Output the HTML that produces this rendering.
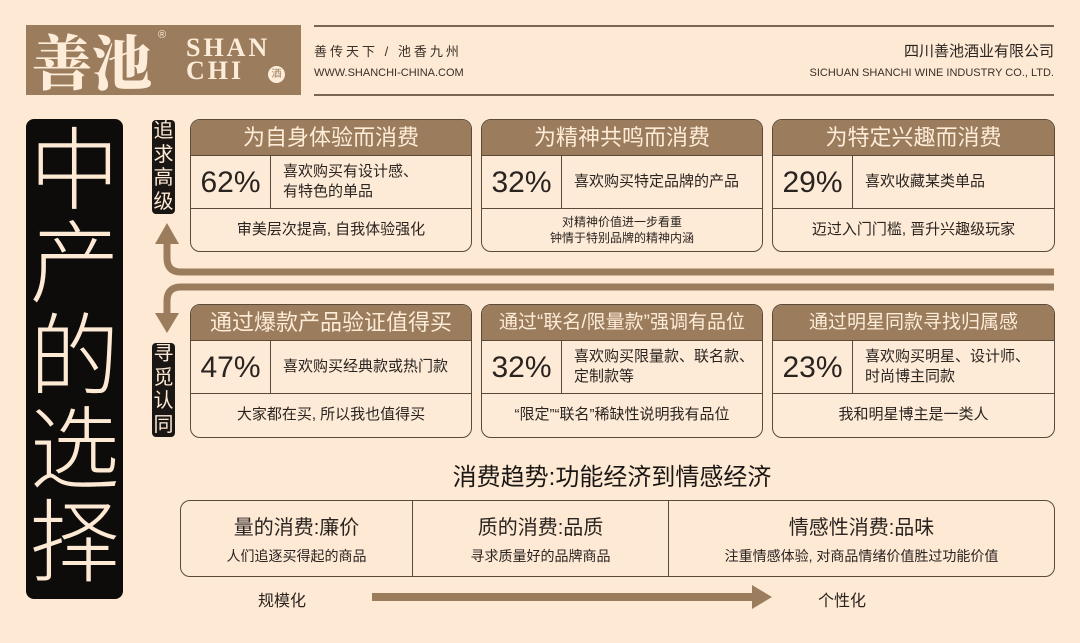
<!DOCTYPE html>
<html><head><meta charset="utf-8"><style>
*{margin:0;padding:0;box-sizing:border-box}
body{width:1080px;height:643px;background:#fde9d4;font-family:"Liberation Sans","Noto Sans CJK SC",sans-serif;position:relative;overflow:hidden;color:#2a2420}
.a{position:absolute}
.card{position:absolute;border:1.5px solid #5a4a3a;border-radius:10px;overflow:hidden;background:#fdebd7}
.hd{height:36px;background:#9b7d5e;color:#fdecd8;font-size:22px;text-align:center;line-height:36px;border-bottom:1.5px solid #5a4a3a}
.md{height:53px;border-bottom:1.5px solid #5a4a3a;display:flex}
.pc{width:80px;border-right:1.5px solid #5a4a3a;font-size:30px;text-align:center;line-height:53px}
.tx{flex:1;font-size:15px;display:flex;align-items:center;padding-left:12px;line-height:20px}
.bt{font-size:15px;text-align:center;height:42px;display:flex;align-items:center;justify-content:center;line-height:16px}
.tag{position:absolute;background:#1a1614;color:#fde9d4;border-radius:4px;width:23px;font-size:20px;line-height:23.5px;text-align:center}
</style></head><body>
<div class="a" style="left:26px;top:25px;width:275px;height:70px;background:#9b7d5e"></div>
<div class="a" style="left:32px;top:24px;font-family:'Noto Serif CJK SC',serif;font-weight:900;font-size:60px;color:#fdecd8;line-height:72px">善池</div>
<div class="a" style="left:158px;top:29px;font-size:11px;color:#fdecd8">®</div>
<div class="a" style="left:186px;top:36px;font-family:'Liberation Serif',serif;font-weight:bold;font-size:26px;color:#fdecd8;line-height:23px;letter-spacing:3px">SHAN<br>CHI</div>
<div class="a" style="left:268px;top:66px;width:17px;height:17px;border-radius:50%;background:#fdecd8;color:#9b7d5e;font-size:10px;text-align:center;line-height:17px">酒</div>
<div class="a" style="left:314px;top:25px;width:740px;height:2px;background:#7a6552"></div>
<div class="a" style="left:314px;top:94px;width:740px;height:2px;background:#7a6552"></div>
<div class="a" style="left:314px;top:41px;font-size:13px;color:#3a3028;letter-spacing:3px">善传天下 / 池香九州</div>
<div class="a" style="left:314px;top:67px;font-size:11px;color:#3a3028">WWW.SHANCHI-CHINA.COM</div>
<div class="a" style="right:26px;top:40px;font-size:15px;color:#2a2420">四川善池酒业有限公司</div>
<div class="a" style="right:26px;top:67px;font-size:11px;color:#3a3028">SICHUAN SHANCHI WINE INDUSTRY CO., LTD.</div>

<div class="a" style="left:26px;top:119px;width:97px;height:480px;background:#0e0c0b;border-radius:8px"></div>
<div class="a" style="left:26px;top:126px;width:97px;color:#fde9d4;font-size:90px;line-height:93px;text-align:center;font-weight:300">中<br>产<br>的<br>选<br>择</div>

<div class="tag" style="left:152px;top:120px">追求高级</div>
<div class="tag" style="left:152px;top:343px">寻觅认同</div>

<svg class="a" style="left:0;top:0" width="1080" height="643">
<g fill="none" stroke="#9b7d5e" stroke-width="7">
<path d="M167 238 V258 Q167 272 181 272 H1054"/>
<path d="M1054 287 H181 Q167 287 167 301 V320"/>
<path d="M372 597 H752" stroke-width="8"/>
</g>
<g fill="#9b7d5e">
<polygon points="167,223 155,244 179,244"/>
<polygon points="167,333 155,313 179,313"/>
<polygon points="752,585 772,597 752,609"/>
</g>
</svg>

<div class="card" style="left:190px;top:119px;width:282px;height:133px"><div class="hd">为自身体验而消费</div><div class="md"><div class="pc">62%</div><div class="tx">喜欢购买有设计感、<br>有特色的单品</div></div><div class="bt">审美层次提高, 自我体验强化</div></div>
<div class="card" style="left:481px;top:119px;width:282px;height:133px"><div class="hd">为精神共鸣而消费</div><div class="md"><div class="pc">32%</div><div class="tx">喜欢购买特定品牌的产品</div></div><div class="bt" style="font-size:12px">对精神价值进一步看重<br>钟情于特别品牌的精神内涵</div></div>
<div class="card" style="left:772px;top:119px;width:283px;height:133px"><div class="hd">为特定兴趣而消费</div><div class="md"><div class="pc">29%</div><div class="tx">喜欢收藏某类单品</div></div><div class="bt">迈过入门门槛, 晋升兴趣级玩家</div></div>

<div class="card" style="left:190px;top:304px;width:282px;height:134px"><div class="hd">通过爆款产品验证值得买</div><div class="md"><div class="pc">47%</div><div class="tx">喜欢购买经典款或热门款</div></div><div class="bt">大家都在买, 所以我也值得买</div></div>
<div class="card" style="left:481px;top:304px;width:282px;height:134px"><div class="hd" style="font-size:19px">通过“联名/限量款”强调有品位</div><div class="md"><div class="pc">32%</div><div class="tx">喜欢购买限量款、联名款、<br>定制款等</div></div><div class="bt">“限定”“联名”稀缺性说明我有品位</div></div>
<div class="card" style="left:772px;top:304px;width:283px;height:134px"><div class="hd" style="font-size:19px">通过明星同款寻找归属感</div><div class="md"><div class="pc">23%</div><div class="tx">喜欢购买明星、设计师、<br>时尚博主同款</div></div><div class="bt">我和明星博主是一类人</div></div>

<div class="a" style="left:172px;width:880px;top:457px;text-align:center;font-size:24px;color:#1a1614">消费趋势:功能经济到情感经济</div>
<div class="a" style="left:180px;top:500px;width:875px;height:77px;border:1.5px solid #5a4a3a;border-radius:10px;display:flex">
<div style="width:232px;border-right:1.5px solid #5a4a3a;text-align:center"><div style="font-size:20px;margin-top:10px">量的消费:廉价</div><div style="font-size:14px;margin-top:6px">人们追逐买得起的商品</div></div>
<div style="width:256px;border-right:1.5px solid #5a4a3a;text-align:center"><div style="font-size:20px;margin-top:10px">质的消费:品质</div><div style="font-size:14px;margin-top:6px">寻求质量好的品牌商品</div></div>
<div style="flex:1;text-align:center"><div style="font-size:20px;margin-top:10px">情感性消费:品味</div><div style="font-size:14px;margin-top:6px">注重情感体验, 对商品情绪价值胜过功能价值</div></div>
</div>
<div class="a" style="left:258px;top:587px;font-size:16px">规模化</div>
<div class="a" style="left:818px;top:587px;font-size:16px">个性化</div>
</body></html>
